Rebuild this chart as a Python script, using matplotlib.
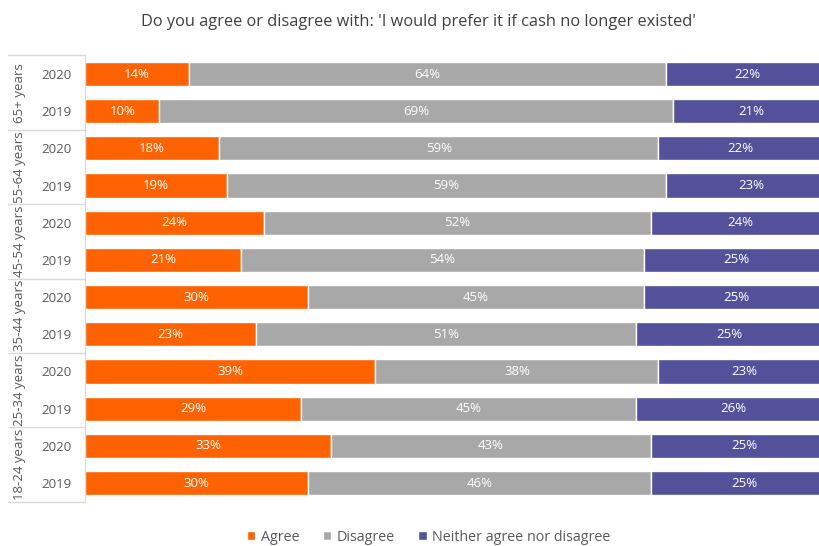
import matplotlib.pyplot as plt
import matplotlib.transforms as mtransforms
import numpy as np

plt.rcParams['font.family'] = ['Open Sans', 'DejaVu Sans']

groups = ['65+ years', '55-64 years', '45-54 years', '35-44 years', '25-34 years', '18-24 years']
years = ['2020', '2019']
agree = [14, 10, 18, 19, 24, 21, 30, 23, 39, 29, 33, 30]
disagree = [64, 69, 59, 59, 52, 54, 45, 51, 38, 45, 43, 46]
neither = [22, 21, 22, 23, 24, 25, 25, 25, 23, 26, 25, 25]

series = [("Agree", agree, "#FF6200"),
          ("Disagree", disagree, "#A8A8A8"),
          ("Neither agree nor disagree", neither, "#525199")]

n = len(agree)
y = np.arange(n)

fig = plt.figure(figsize=(8.2, 5.46), dpi=100)
ax = fig.add_axes([0.1037, 0.0813, 0.8963, 0.8172])

# bars run a little past the right edge of the picture (cropped)
xmax = 98.7
left = np.zeros(n)
for name, v, col in series:
    w = np.array(v, dtype=float)
    ax.barh(y, w, left=left, height=0.65, color=col, edgecolor='white',
            linewidth=1, label=name)
    for yi, li, wi in zip(y, left, w):
        ax.text(li + wi / 2, yi, f"{int(wi)}%", ha='center', va='center',
                color='white', fontsize=9.5)
    left += w

ax.set_xlim(0, xmax)
ax.set_ylim(n - 0.5, -0.5)
ax.set_xticks([])
ax.set_yticks(y)
ax.set_yticklabels(years * len(groups), color='#595959', fontsize=9.5)
ax.tick_params(axis='y', length=0, pad=10)
for s in ['top', 'right', 'bottom']:
    ax.spines[s].set_visible(False)
ax.spines['left'].set_color('#D9D9D9')

trans = mtransforms.blended_transform_factory(ax.transAxes, ax.transData)
for k in range(len(groups) + 1):
    yb = 2 * k - 0.5
    ax.plot([-0.105, 0], [yb, yb], color='#D9D9D9', lw=1, transform=trans, clip_on=False)
for k, g in enumerate(groups):
    ax.text(-0.089, 2 * k + 0.5, g, rotation=90, ha='center', va='center',
            color='#595959', fontsize=9.5, transform=trans)

fig.suptitle("Do you agree or disagree with: 'I would prefer it if cash no longer existed'",
             x=0.51, y=0.975, fontsize=11.8, color='#404040')

fig.legend(loc='center', bbox_to_anchor=(0.523, 0.016), ncol=3, frameon=False,
           fontsize=10.3, handlelength=0.6, handleheight=0.6, handletextpad=0.4,
           columnspacing=1.6, labelcolor='#595959', borderpad=0.1)

fig.savefig('out.png', dpi=100)
